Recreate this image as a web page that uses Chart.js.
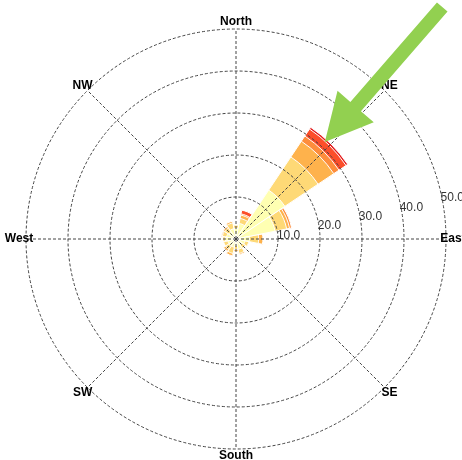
<!DOCTYPE html>
<html><head><meta charset="utf-8">
<script src="https://cdn.jsdelivr.net/npm/chart.js@4/dist/chart.umd.min.js"></script>
<style>html,body{margin:0;padding:0;background:#fff;overflow:hidden}#wrap{width:462px;height:460px;position:relative}</style>
</head><body><div id="wrap"><canvas id="c"></canvas></div>
<script>
// 16 wind directions (sectors of 22.5 deg, centred on each direction)
const directions = ['N','NNE','NE','ENE','E','ESE','SE','SSE','S','SSW','SW','WSW','W','WNW','NW','NNW'];
// axis labels (8 compass points)
const axisLabels = ['North','NE','East','SE','South','SW','West','NW'];
// radial tick labels (% frequency)
const tickValues = [10, 20, 30, 40, 50];
// frequency (%) per speed bin, one value per direction
const bin1 = [2.5, 3.8, 14.0, 9.5, 3.2, 2.2, 1.8, 2.5, 1.5, 2.0, 2.0, 2.0, 2.5, 2.3, 2.0, 2.5];
const bin2 = [0.8, 1.2,  9.5, 2.8, 2.2, 0.9, 0.9, 1.0, 1.0, 1.5, 1.0, 1.0, 0.6, 1.0, 1.2, 1.4];
const bin3 = [0.0, 0.8,  4.5, 0.7, 1.0, 0.0, 0.0, 0.3, 0.5, 0.6, 0.5, 0.0, 0.0, 0.2, 0.4, 0.4];
const bin4 = [0.0, 0.3,  1.5, 0.5, 0.0, 0.0, 0.0, 0.0, 0.0, 0.0, 0.0, 0.0, 0.0, 0.0, 0.0, 0.0];
const bin5 = [0.0, 0.9,  2.0, 0.0, 0.0, 0.0, 0.0, 0.0, 0.0, 0.0, 0.0, 0.0, 0.0, 0.0, 0.0, 0.0];
const bin6 = [0.0, 0.0,  0.5, 0.0, 0.0, 0.0, 0.0, 0.0, 0.0, 0.0, 0.0, 0.0, 0.0, 0.0, 0.0, 0.0];
const binColors = ['#ffffb2', '#fed976', '#feb24c', '#fd8d3c', '#fc4e2a', '#e31a1c'];

const bins = [bin1, bin2, bin3, bin4, bin5, bin6];
const sector = 360 / directions.length;
// cumulative (stacked) values; a zero-value leading element rotates the sectors so each is centred on its direction
const cumulative = bins.map((_, b) => directions.map((d, i) => bins.slice(0, b + 1).reduce((s, arr) => s + arr[i], 0)));
const datasets = cumulative.map((vals, b) => ({
  label: 'bin' + (b + 1),
  data: [0].concat(vals),
  backgroundColor: binColors[b],
  borderColor: '#ffffff',
  borderWidth: ctx => (ctx.dataIndex === 0 || !ctx.raw) ? 0 : 1,
  angle: ctx => ctx.dataIndex === 0 ? 360 - sector / 2 : sector
}));

const labelFont = 'bold 12px "Liberation Sans", Arial, sans-serif';
const tickFont = '12px "Liberation Sans", Arial, sans-serif';

const decorations = {
  id: 'decorations',
  afterDraw(chart) {
    const s = chart.scales.r;
    const ctx = chart.ctx;
    ctx.save();
    // compass labels
    ctx.font = labelFont;
    ctx.fillStyle = '#000';
    ctx.textAlign = 'center';
    ctx.textBaseline = 'middle';
    axisLabels.forEach((t, i) => {
      const p = s.getPointPosition(i, s.drawingArea + 7);
      ctx.fillText(t, p.x, p.y);
    });
    // radial tick labels along a ray 13 deg above east
    ctx.font = tickFont;
    ctx.fillStyle = '#333';
    ctx.textAlign = 'left';
    ctx.textBaseline = 'top';
    const a = 13 * Math.PI / 180;
    tickValues.forEach(v => {
      const r = s.getDistanceFromCenterForValue(v);
      ctx.fillText(v.toFixed(1), s.xCenter + r * Math.cos(a), s.yCenter - r * Math.sin(a));
    });
    // green annotation arrow pointing at the dominant NE sector
    const tb = 42.5 * Math.PI / 180;
    const tr = s.getDistanceFromCenterForValue(31.3);
    const tip = {x: s.xCenter + tr * Math.sin(tb), y: s.yCenter - tr * Math.cos(tb)};
    const ab = 41 * Math.PI / 180;
    const u = {x: Math.sin(ab), y: -Math.cos(ab)};
    const v = {x: -u.y, y: u.x};
    const L = 179, H = 47, HW = 24, SW = 7;
    const P = (l, w) => [tip.x + u.x * l + v.x * w, tip.y + u.y * l + v.y * w];
    const pts = [P(0, 0), P(H, -HW), P(H, -SW), P(L, -SW), P(L, SW), P(H, SW), P(H, HW)];
    ctx.fillStyle = '#92d050';
    ctx.beginPath();
    pts.forEach((p, i) => i ? ctx.lineTo(p[0], p[1]) : ctx.moveTo(p[0], p[1]));
    ctx.closePath();
    ctx.fill();
    ctx.restore();
  }
};

new Chart(document.getElementById('c'), {
  type: 'polarArea',
  data: { labels: axisLabels, datasets },
  options: {
    responsive: true,
    maintainAspectRatio: false,
    animation: false,
    events: [],
    layout: { padding: { left: 26, right: 16, top: 29, bottom: 11 } },
    plugins: { legend: { display: false }, tooltip: { enabled: false } },
    scales: {
      r: {
        min: 0,
        max: 50,
        startAngle: 0,
        ticks: { display: false, stepSize: 10 },
        pointLabels: { display: false },
        grid: { display: true, circular: true, color: '#444', lineWidth: 1, z: 1 },
        border: { dash: [3, 2] },
        angleLines: { display: true, color: '#444', lineWidth: 1, borderDash: [3, 2] }
      }
    }
  },
  plugins: [decorations]
});
</script>
</body></html>
